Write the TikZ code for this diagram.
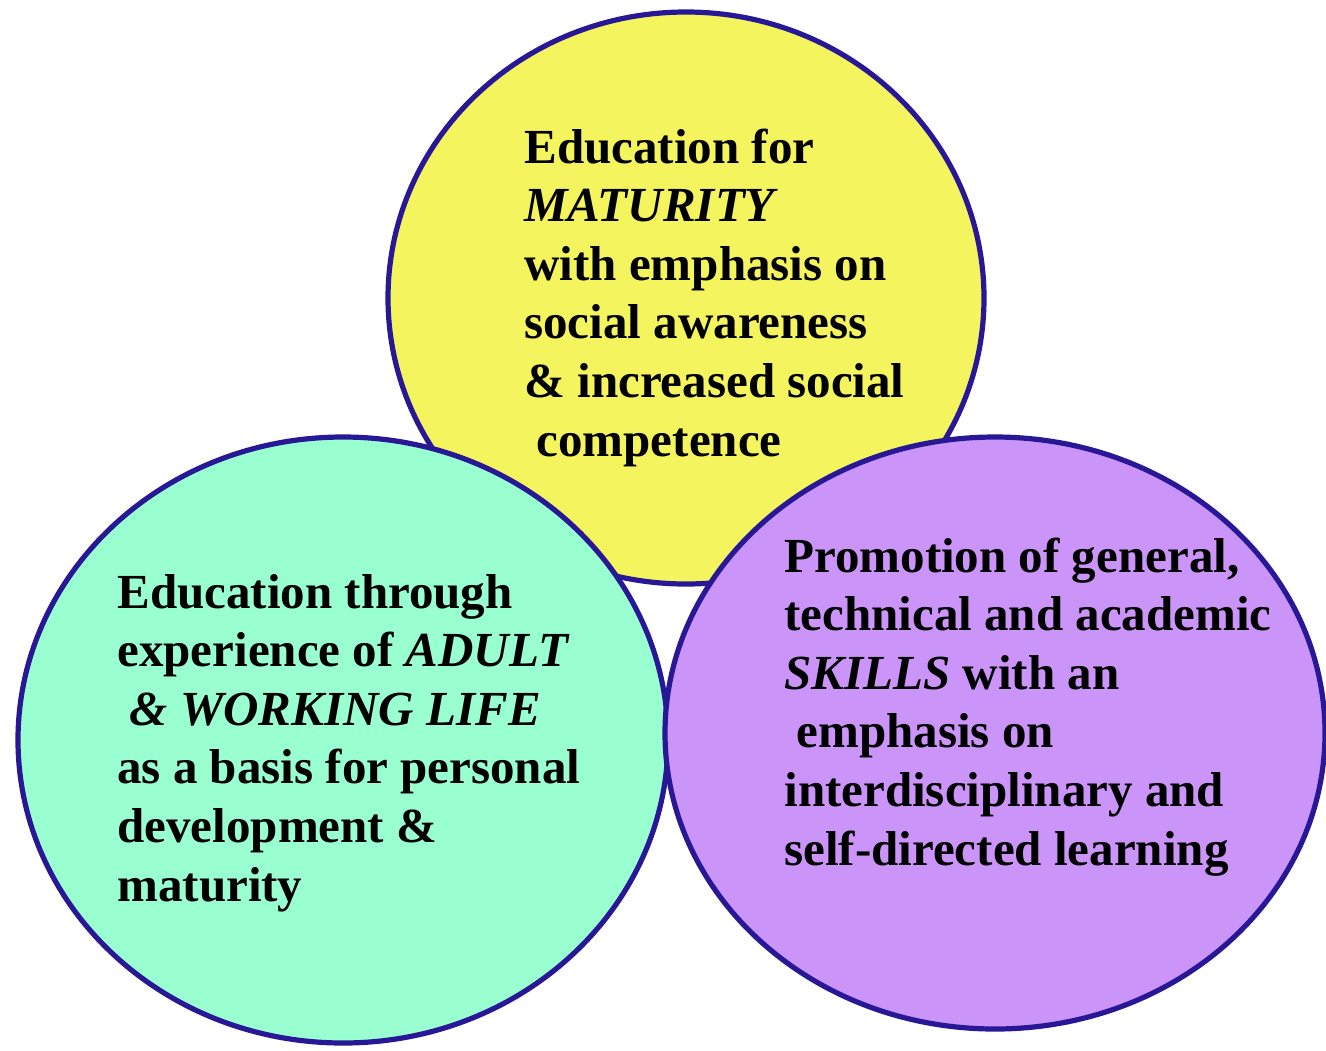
\documentclass[tikz,border=0pt]{standalone}
\usepackage{fontspec}
\setmainfont{Liberation Serif}
\usetikzlibrary{shapes.geometric}
\definecolor{edgeblue}{RGB}{40,24,150}
\definecolor{fillyellow}{RGB}{244,244,94}
\definecolor{fillgreen}{RGB}{153,255,208}
\definecolor{fillpurple}{RGB}{202,148,248}
\tikzset{
  bubble/.style={ellipse, draw=edgeblue, line width=2.6pt, inner sep=0pt},
  blurb/.style={anchor=base west, inner sep=0pt,
    font=\fontsize{24.5pt}{29.3pt}\selectfont\bfseries, text=black}
}
\begin{document}
\begin{tikzpicture}[x=0.5pt,y=-0.5pt]
\useasboundingbox (0,0) rectangle (1326,1050);
\node[bubble, fill=fillyellow, minimum width=298pt, minimum height=286pt] (yel) at (686,298) {};
\node[bubble, fill=fillgreen, minimum width=325pt, minimum height=303pt] (grn) at (343,740) {};
\node[bubble, fill=fillpurple, minimum width=330pt, minimum height=296pt] (pur) at (995,733) {};
\node[blurb] (ytext) at (524,163) {\begin{tabular}[t]{@{}l@{}}Education for\\ \textit{MATURITY}\\ with emphasis on\\ social awareness\\ \& increased social\\ \hspace{0.25em}competence\end{tabular}};
\node[blurb] (gtext) at (117,608) {\begin{tabular}[t]{@{}l@{}}Education through\\ experience of \textit{ADULT}\\ \hspace{0.25em}\textit{\& WORKING LIFE}\\ as a basis for personal\\ development \&\\ maturity\end{tabular}};
\node[blurb] (ptext) at (784,572) {\begin{tabular}[t]{@{}l@{}}Promotion of general,\\ technical and academic\\ \textit{SKILLS} with an\\ \hspace{0.25em}emphasis on\\ interdisciplinary and\\ self-directed learning\end{tabular}};
\end{tikzpicture}
\end{document}
